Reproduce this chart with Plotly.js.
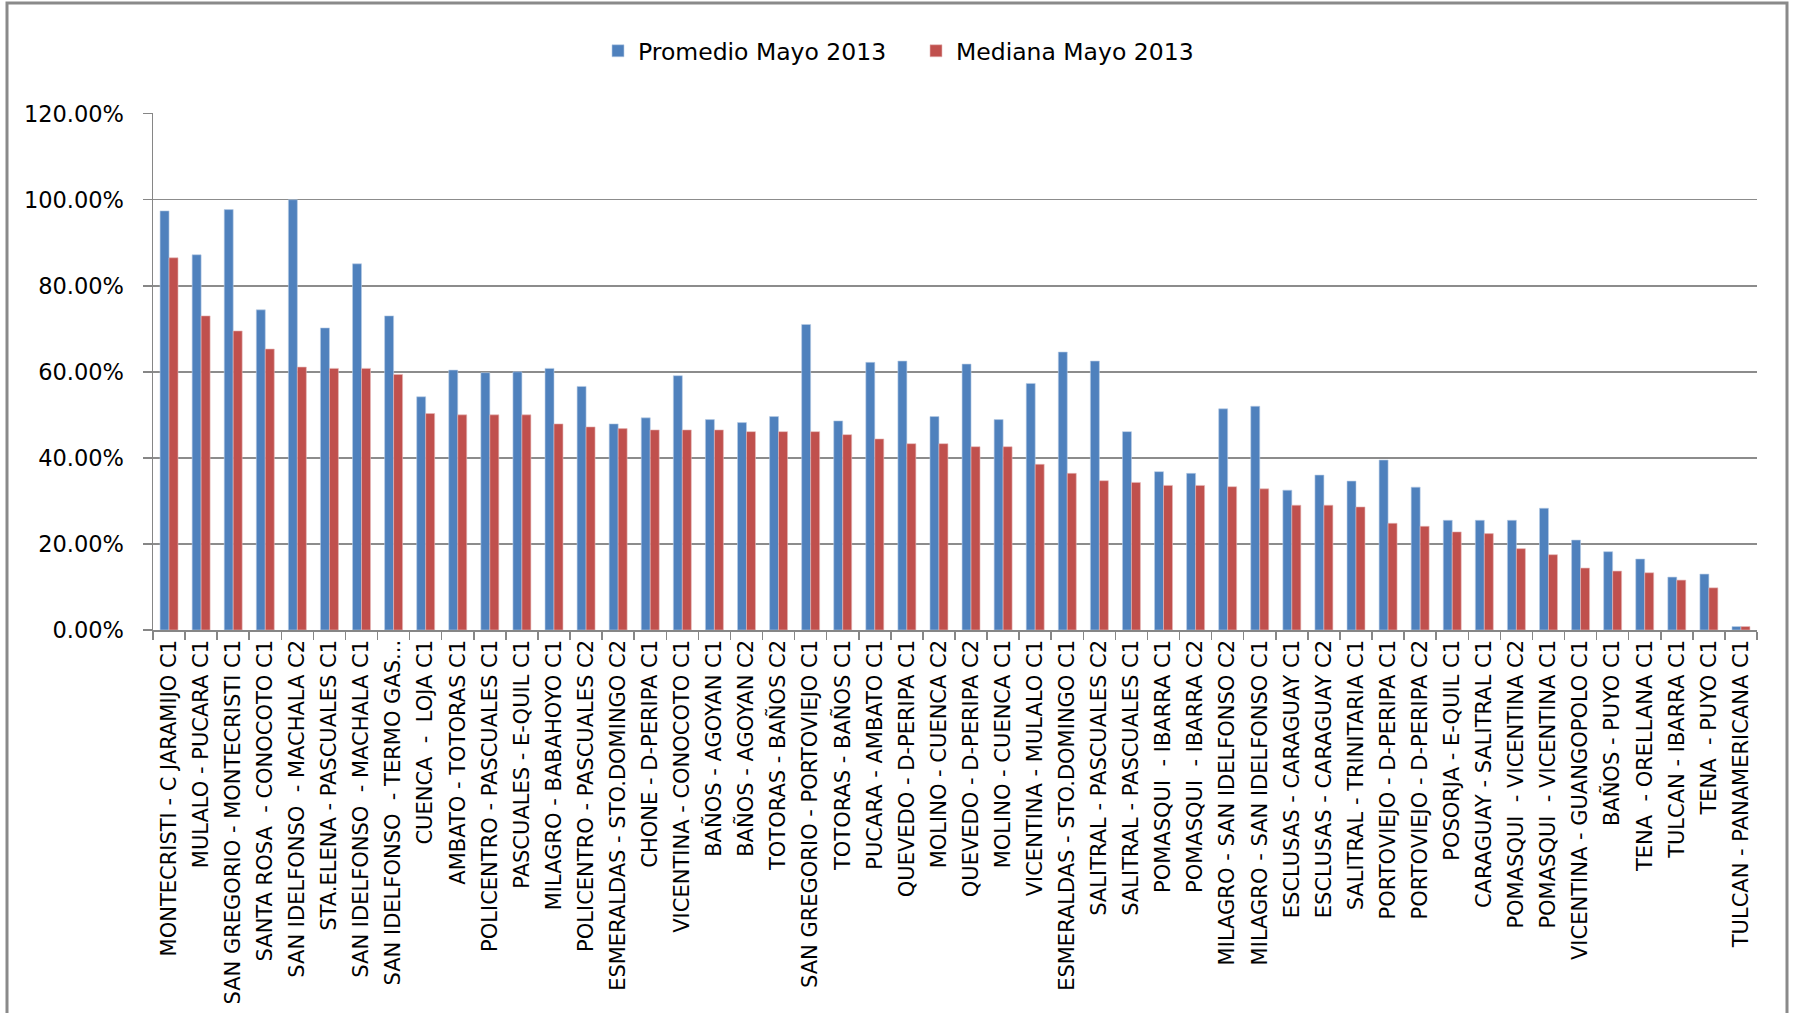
<!DOCTYPE html>
<html>
<head>
<meta charset="utf-8">
<script src="https://cdn.plot.ly/plotly-3.0.1.min.js"></script>
<style>
  html, body { margin: 0; padding: 0; background: #ffffff; }
  #chart { width: 1796px; height: 1013px; }
</style>
</head>
<body>
<div id="chart"></div>
<script>
const categories = [
  "MONTECRISTI - C JARAMIJO C1",
  "MULALO - PUCARA C1",
  "SAN GREGORIO - MONTECRISTI C1",
  "SANTA ROSA  - CONOCOTO C1",
  "SAN IDELFONSO  - MACHALA C2",
  "STA.ELENA - PASCUALES C1",
  "SAN IDELFONSO  - MACHALA C1",
  "SAN IDELFONSO  - TERMO GAS...",
  "CUENCA  -  LOJA C1",
  "AMBATO - TOTORAS C1",
  "POLICENTRO - PASCUALES C1",
  "PASCUALES - E-QUIL C1",
  "MILAGRO - BABAHOYO C1",
  "POLICENTRO - PASCUALES C2",
  "ESMERALDAS - STO.DOMINGO C2",
  "CHONE - D-PERIPA C1",
  "VICENTINA - CONOCOTO C1",
  "BAÑOS - AGOYAN C1",
  "BAÑOS - AGOYAN C2",
  "TOTORAS - BAÑOS C2",
  "SAN GREGORIO - PORTOVIEJO C1",
  "TOTORAS - BAÑOS C1",
  "PUCARA - AMBATO C1",
  "QUEVEDO - D-PERIPA C1",
  "MOLINO - CUENCA C2",
  "QUEVEDO - D-PERIPA C2",
  "MOLINO - CUENCA C1",
  "VICENTINA - MULALO C1",
  "ESMERALDAS - STO.DOMINGO C1",
  "SALITRAL - PASCUALES C2",
  "SALITRAL - PASCUALES C1",
  "POMASQUI  - IBARRA C1",
  "POMASQUI  - IBARRA C2",
  "MILAGRO - SAN IDELFONSO C2",
  "MILAGRO - SAN IDELFONSO C1",
  "ESCLUSAS - CARAGUAY C1",
  "ESCLUSAS - CARAGUAY C2",
  "SALITRAL - TRINITARIA C1",
  "PORTOVIEJO - D-PERIPA C1",
  "PORTOVIEJO - D-PERIPA C2",
  "POSORJA - E-QUIL C1",
  "CARAGUAY - SALITRAL C1",
  "POMASQUI  - VICENTINA C2",
  "POMASQUI  - VICENTINA C1",
  "VICENTINA - GUANGOPOLO C1",
  "BAÑOS - PUYO C1",
  "TENA  - ORELLANA C1",
  "TULCAN - IBARRA C1",
  "TENA  - PUYO C1",
  "TULCAN - PANAMERICANA C1"
];

const promedioMayo2013 = [
  97.4, 87.2, 97.7, 74.4, 100.0, 70.2, 85.1, 73.0, 54.2, 60.4,
  59.8, 60.0, 60.8, 56.6, 47.9, 49.3, 59.1, 48.9, 48.2, 49.6,
  71.0, 48.6, 62.2, 62.5, 49.6, 61.8, 48.9, 57.3, 64.6, 62.5,
  46.1, 36.8, 36.4, 51.4, 52.0, 32.5, 36.0, 34.6, 39.5, 33.2,
  25.5, 25.5, 25.5, 28.3, 20.9, 18.2, 16.5, 12.3, 13.0, 0.8
];

const medianaMayo2013 = [
  86.5, 73.0, 69.5, 65.3, 61.1, 60.8, 60.8, 59.4, 50.3, 50.0,
  50.0, 50.0, 47.9, 47.2, 46.8, 46.5, 46.5, 46.5, 46.1, 46.1,
  46.1, 45.4, 44.4, 43.3, 43.3, 42.6, 42.6, 38.5, 36.4, 34.7,
  34.3, 33.6, 33.6, 33.3, 32.8, 29.0, 29.0, 28.6, 24.8, 24.1,
  22.8, 22.4, 18.9, 17.5, 14.4, 13.7, 13.3, 11.6, 9.8, 0.8
];

const seriesNames = ["Promedio Mayo 2013", "Mediana Mayo 2013"];
const yTickValues = [0, 20, 40, 60, 80, 100, 120];
const yTickLabels = ["0.00%", "20.00%", "40.00%", "60.00%", "80.00%", "100.00%", "120.00%"];

const FONT = "DejaVu Sans, Liberation Sans, Arial, sans-serif";

const traces = [
  {
    type: "bar",
    name: seriesNames[0],
    x: categories,
    y: promedioMayo2013,
    marker: { color: "#4F81BD", line: { color: "#B9CDE5", width: 0.6 } }
  },
  {
    type: "bar",
    name: seriesNames[1],
    x: categories,
    y: medianaMayo2013,
    marker: { color: "#C0504D", line: { color: "#E6B9B8", width: 0.6 } }
  }
];

const W = 1796, H = 1013;
const L = 153, R = 39, T = 113, B = 383;
const pw = W - L - R, ph = H - T - B;
function px2paperX(px) { return (px - L) / pw; }
function px2paperY(py) { return (H - B - py) / ph; }

const layout = {
  width: W,
  height: H,
  margin: { l: L, r: R, t: T, b: B, pad: 0 },
  paper_bgcolor: "#ffffff",
  plot_bgcolor: "#ffffff",
  font: { family: FONT, color: "#000000" },
  barmode: "group",
  bargap: 0.44,
  bargroupgap: 0,
  showlegend: true,
  legend: {
    orientation: "h",
    x: px2paperX(916),
    xanchor: "center",
    y: px2paperY(51),
    yanchor: "middle",
    font: { family: FONT, size: 23.5, color: "#000000" },
    bgcolor: "rgba(0,0,0,0)",
    entrywidth: 273,
    entrywidthmode: "pixels",
    traceorder: "normal"
  },
  xaxis: {
    type: "category",
    tickangle: -90,
    tickfont: { family: FONT, size: 21, color: "#000000" },
    ticks: "outside",
    tickson: "boundaries",
    ticklen: 8,
    tickcolor: "#868686",
    tickwidth: 1.5,
    showline: true,
    linecolor: "#868686",
    linewidth: 1.5,
    showgrid: false,
    automargin: false,
    fixedrange: true
  },
  yaxis: {
    range: [0, 120.15],
    tickmode: "array",
    tickvals: yTickValues,
    ticktext: yTickLabels,
    tickfont: { family: FONT, size: 22.5, color: "#000000" },
    ticks: "outside",
    ticklen: 9,
    tickcolor: "#868686",
    tickwidth: 1.5,
    ticklabelstandoff: 14,
    showline: true,
    linecolor: "#868686",
    linewidth: 1.5,
    showgrid: true,
    gridcolor: "#8C8C8C",
    gridwidth: 1.5,
    zeroline: false,
    automargin: false,
    fixedrange: true
  },
  shapes: [
    {
      type: "rect",
      xref: "paper",
      yref: "paper",
      x0: px2paperX(7),
      x1: px2paperX(1787),
      y0: px2paperY(1040),
      y1: px2paperY(3),
      line: { color: "#8A8A8A", width: 3 },
      fillcolor: "rgba(0,0,0,0)",
      layer: "below"
    }
  ]
};

Plotly.newPlot("chart", traces, layout, { staticPlot: true, displayModeBar: false });
</script>
</body>
</html>
